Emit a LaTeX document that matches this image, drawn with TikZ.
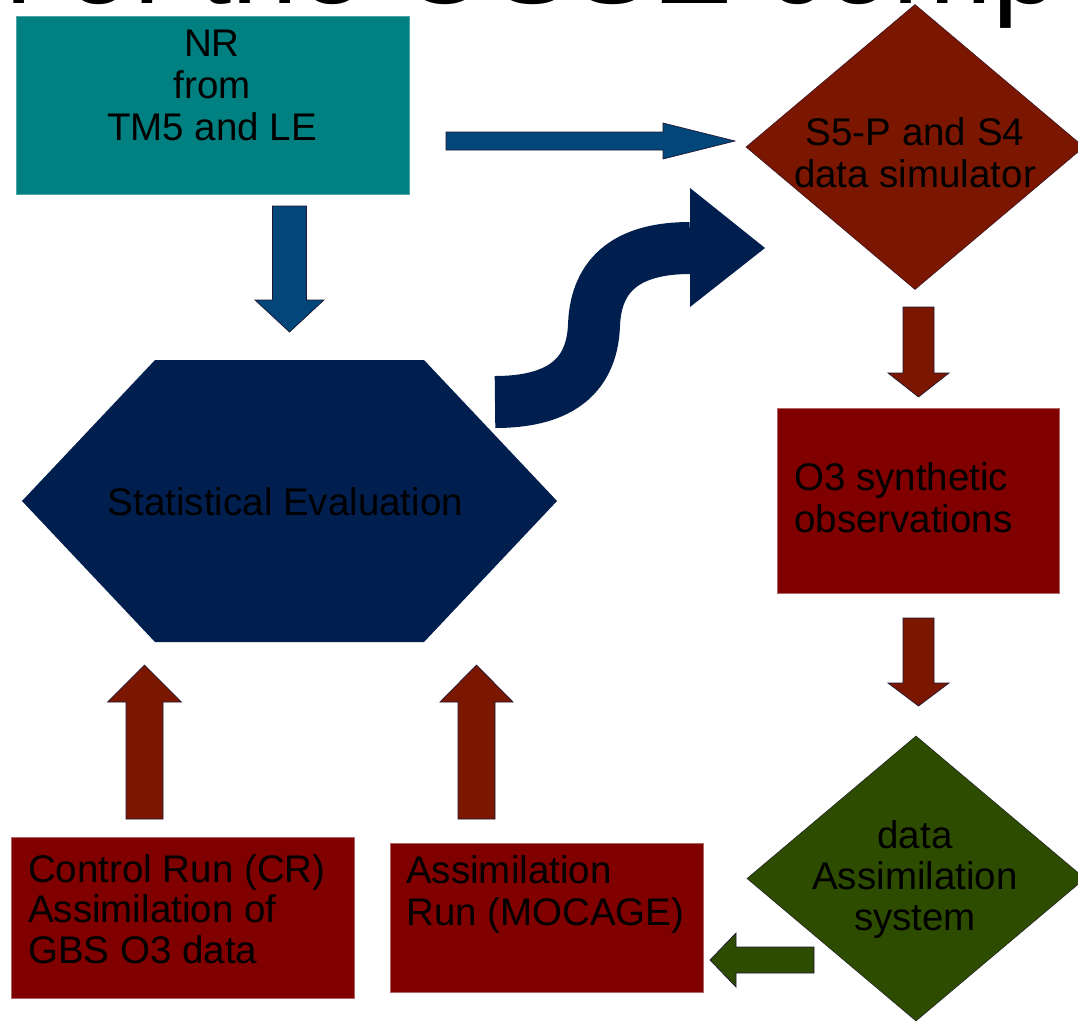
\documentclass[tikz,border=0pt]{standalone}
\usepackage{fontspec}
\setmainfont{Liberation Sans}
\usetikzlibrary{calc,shapes.geometric}
\definecolor{cTeal}{RGB}{0,128,128}
\definecolor{cBlue}{RGB}{3,71,122}
\definecolor{cNavy}{RGB}{0,30,78}
\definecolor{cBrown}{RGB}{123,22,0}
\definecolor{cMaroon}{RGB}{128,0,0}
\definecolor{cGreen}{RGB}{46,76,0}
\definecolor{cEdge}{RGB}{30,22,50}
\newcommand\blockarrow[6]{% style, from, to, half shaft, half head, head length
  \path ($(#3)!#6!(#2)$) coordinate (hb);
  \filldraw[#1] ($(#2)!#4!90:(#3)$) -- ($(hb)!#4!90:(#3)$) -- ($(hb)!#5!90:(#3)$) -- (#3)
     -- ($(hb)!#5!-90:(#3)$) -- ($(hb)!#4!-90:(#3)$) -- ($(#2)!#4!-90:(#3)$) -- cycle;
}
\begin{document}
\begin{tikzpicture}[x=1pt,y=-1pt,
  lbl/.style={inner sep=0pt, font=\fontsize{38.5}{42}\selectfont, text=black},
  box/.style={rectangle, inner sep=0pt, line width=0.8pt},
  dia/.style={diamond, inner sep=0pt, line width=0.7pt},
  barrow/.style={line width=0.7pt, draw=cEdge, line join=miter},
]
\useasboundingbox (0,0) rectangle (1078,1020);
\fill[white] (0,0) rectangle (1078,1020);
\clip (0,0) rectangle (1078,1020);

% cut-off title
\node[anchor=base west, inner sep=0pt, font=\fontsize{120}{120}\selectfont] (title) at (-35,3) {n of the OSSE comp};

% boxes
\node[box, fill=cTeal, draw=cTeal!70!white, minimum width=393pt, minimum height=178pt] (nr) at (212.5,105) {};
\node[lbl, anchor=north, align=center] (nrtext) at (212,26.6) {\strut NR\\from\\TM5 and LE};

\node[dia, fill=cBrown, draw=cEdge!60!cBrown, minimum width=338pt, minimum height=285pt] (sim) at (915,147) {};
\node[lbl, anchor=north, align=center] (simtext) at (915,115.6) {\strut S5-P and S4\\data simulator};

\fill[cNavy] (155,360) -- (424,360) -- (557,501) -- (424,642) -- (155,642) -- (22,501) -- cycle;
\node[lbl] (stat) at (289.5,501) {};
\node[lbl, anchor=north] (stattext) at (285.5,485.6) {\strut Statistical Evaluation};

\node[box, fill=cMaroon, draw=cMaroon!60!white, minimum width=282pt, minimum height=185pt] (o3) at (918,500.5) {};
\node[lbl, anchor=north west, align=left] (o3text) at (794,460.6) {\strut O3 synthetic\\observations};

\node[dia, fill=cGreen, draw=cEdge!60!cGreen, minimum width=338pt, minimum height=285pt] (das) at (916,878.5) {};
\node[lbl, anchor=north, align=center, font=\fontsize{38.5}{41}\selectfont] (dastext) at (915,819.3) {\strut data\\Assimilation\\system};

\node[box, fill=cMaroon, draw=cMaroon!60!white, minimum width=313pt, minimum height=149pt] (ar) at (546.5,917.5) {};
\node[lbl, anchor=north west, align=left] (artext) at (406,853.6) {\strut Assimilation\\Run (MOCAGE)};

\node[box, fill=cMaroon, draw=cMaroon!60!white, minimum width=343pt, minimum height=161pt] (cr) at (182.5,917.5) {};
\node[lbl, anchor=north west, align=left, font=\fontsize{38.5}{40.5}\selectfont] (crtext) at (28,853.6) {\strut Control Run (CR)\\Assimilation of\\GBS O3 data};

% block arrows
\coordinate (a1s) at (289.5,206); \coordinate (a1e) at (289.5,332);
\blockarrow{barrow, fill=cBlue}{a1s}{a1e}{17pt}{34.5pt}{32pt}
\coordinate (a2s) at (446,141); \coordinate (a2e) at (735,141);
\blockarrow{barrow, fill=cBlue}{a2s}{a2e}{9pt}{18pt}{72pt}
\coordinate (a3s) at (918.5,307); \coordinate (a3e) at (918.5,397);
\blockarrow{barrow, fill=cBrown}{a3s}{a3e}{15.5pt}{30.5pt}{24pt}
\coordinate (a4s) at (918.5,618); \coordinate (a4e) at (918.5,706);
\blockarrow{barrow, fill=cBrown}{a4s}{a4e}{15.5pt}{30.5pt}{23pt}
\coordinate (a5s) at (814,960); \coordinate (a5e) at (710,960);
\blockarrow{barrow, fill=cGreen}{a5s}{a5e}{13pt}{27pt}{26pt}
\coordinate (a6s) at (144.5,819); \coordinate (a6e) at (144.5,665);
\blockarrow{barrow, fill=cBrown}{a6s}{a6e}{18.5pt}{37pt}{37pt}
\coordinate (a7s) at (476.5,819); \coordinate (a7e) at (476.5,665);
\blockarrow{barrow, fill=cBrown}{a7s}{a7e}{18.5pt}{36.5pt}{37pt}

% S-shaped arrow
\coordinate (s0) at (495,402); \coordinate (s1) at (690,248); \coordinate (s2) at (765,248);
\draw[cNavy, line width=52pt] (s0) .. controls (555,402) and (592,380) .. (594,325)
   .. controls (596,272) and (630,248) .. (s1);
\fill[cNavy] (690,188) -- (s2) -- (690,307) -- cycle;
\end{tikzpicture}
\end{document}
